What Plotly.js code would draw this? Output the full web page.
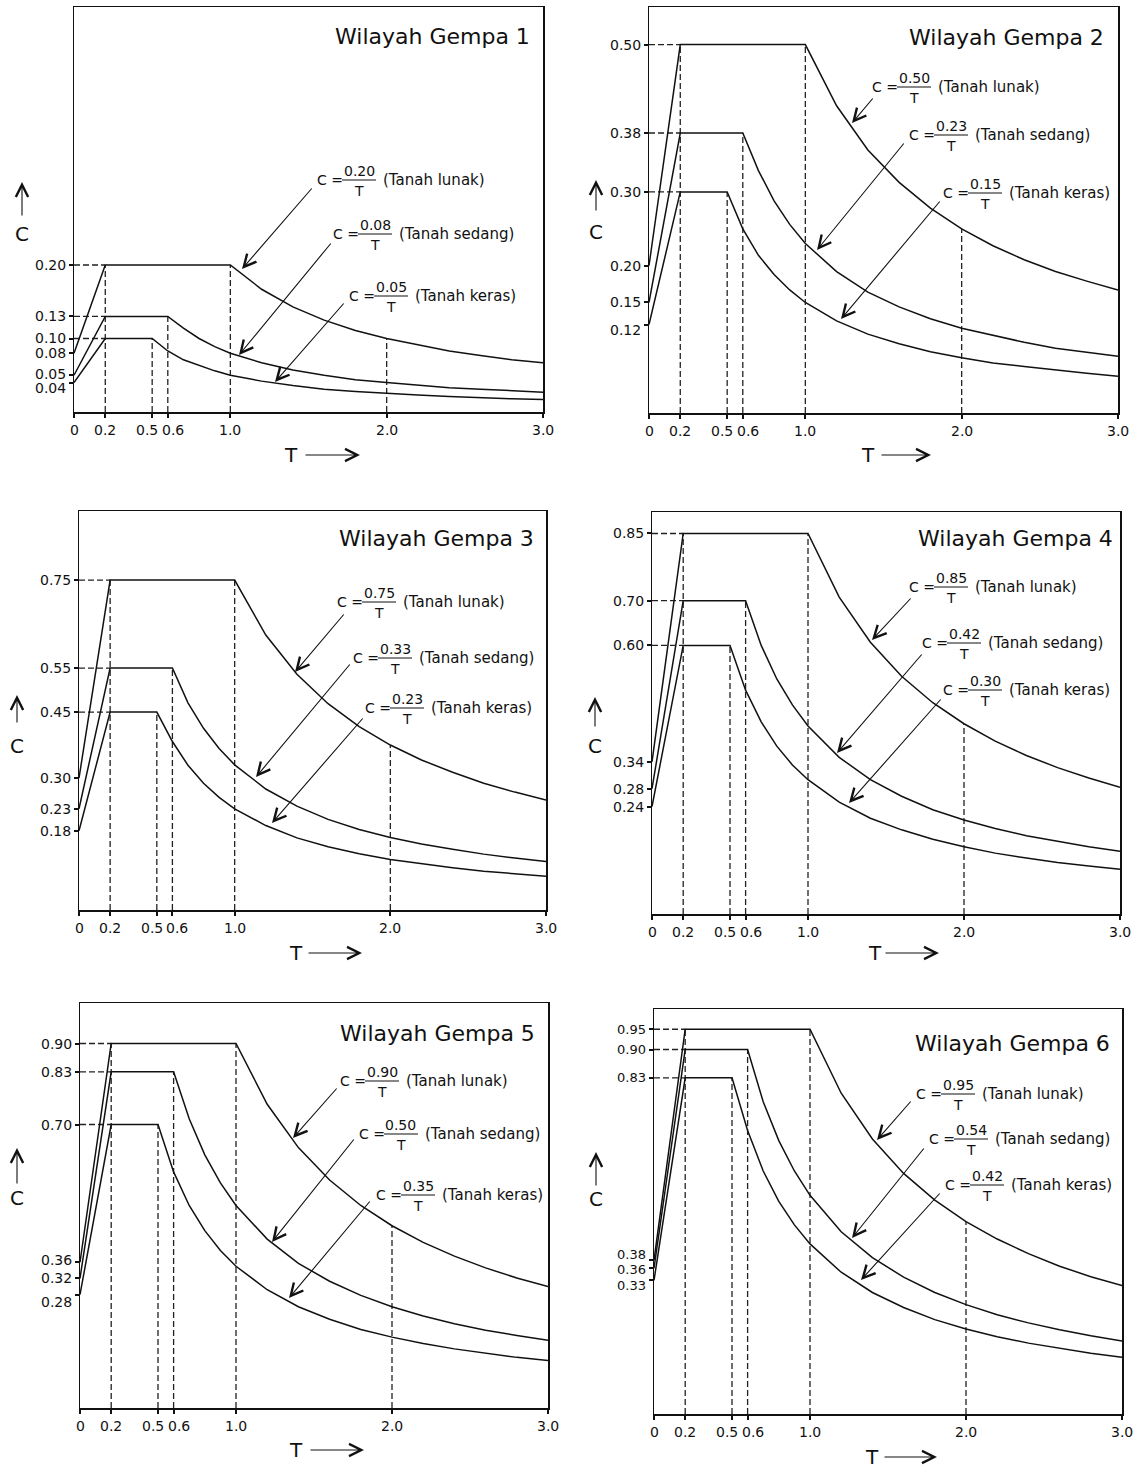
<!DOCTYPE html>
<html><head><meta charset="utf-8">
<script src="https://cdn.plot.ly/plotly-3.0.1.min.js"></script>
<style>html,body{margin:0;padding:0;background:#fff}</style>
</head><body><div id="chart" style="width:1139px;height:1469px"></div>
<script>
// ---------- DATA ----------
const T = [0, 0.2, 0.5, 0.6, 0.7, 0.8, 0.9, 1.0, 1.2, 1.4, 1.6, 1.8, 2.0, 2.2, 2.4, 2.6, 2.8, 3.0];

const lunak1  = [0.08, 0.20, 0.20, 0.20, 0.20, 0.20, 0.20, 0.20, 0.167, 0.143, 0.125, 0.111, 0.100, 0.091, 0.083, 0.077, 0.071, 0.067];
const sedang1 = [0.05, 0.13, 0.13, 0.13, 0.114, 0.100, 0.089, 0.080, 0.067, 0.057, 0.050, 0.044, 0.040, 0.036, 0.033, 0.031, 0.029, 0.027];
const keras1  = [0.04, 0.10, 0.10, 0.083, 0.071, 0.063, 0.056, 0.050, 0.042, 0.036, 0.031, 0.028, 0.025, 0.023, 0.021, 0.019, 0.018, 0.017];

const lunak2  = [0.20, 0.50, 0.50, 0.50, 0.50, 0.50, 0.50, 0.50, 0.417, 0.357, 0.313, 0.278, 0.250, 0.227, 0.208, 0.192, 0.179, 0.167];
const sedang2 = [0.15, 0.38, 0.38, 0.38, 0.329, 0.288, 0.256, 0.230, 0.192, 0.164, 0.144, 0.128, 0.115, 0.105, 0.096, 0.088, 0.082, 0.077];
const keras2  = [0.12, 0.30, 0.30, 0.250, 0.214, 0.188, 0.167, 0.150, 0.125, 0.107, 0.094, 0.083, 0.075, 0.068, 0.063, 0.058, 0.054, 0.050];

const lunak3  = [0.30, 0.75, 0.75, 0.75, 0.75, 0.75, 0.75, 0.75, 0.625, 0.536, 0.469, 0.417, 0.375, 0.341, 0.313, 0.288, 0.268, 0.250];
const sedang3 = [0.23, 0.55, 0.55, 0.55, 0.471, 0.413, 0.367, 0.330, 0.275, 0.236, 0.206, 0.183, 0.165, 0.150, 0.138, 0.127, 0.118, 0.110];
const keras3  = [0.18, 0.45, 0.45, 0.383, 0.329, 0.288, 0.256, 0.230, 0.192, 0.164, 0.144, 0.128, 0.115, 0.105, 0.096, 0.088, 0.082, 0.077];

const lunak4  = [0.34, 0.85, 0.85, 0.85, 0.85, 0.85, 0.85, 0.85, 0.708, 0.607, 0.531, 0.472, 0.425, 0.386, 0.354, 0.327, 0.304, 0.283];
const sedang4 = [0.28, 0.70, 0.70, 0.70, 0.600, 0.525, 0.467, 0.420, 0.350, 0.300, 0.263, 0.233, 0.210, 0.191, 0.175, 0.162, 0.150, 0.140];
const keras4  = [0.24, 0.60, 0.60, 0.500, 0.429, 0.375, 0.333, 0.300, 0.250, 0.214, 0.188, 0.167, 0.150, 0.136, 0.125, 0.115, 0.107, 0.100];

const lunak5  = [0.36, 0.90, 0.90, 0.90, 0.90, 0.90, 0.90, 0.90, 0.750, 0.643, 0.563, 0.500, 0.450, 0.409, 0.375, 0.346, 0.321, 0.300];
const sedang5 = [0.32, 0.83, 0.83, 0.83, 0.714, 0.625, 0.556, 0.500, 0.417, 0.357, 0.313, 0.278, 0.250, 0.227, 0.208, 0.192, 0.179, 0.167];
const keras5  = [0.28, 0.70, 0.70, 0.583, 0.500, 0.438, 0.389, 0.350, 0.292, 0.250, 0.219, 0.194, 0.175, 0.159, 0.146, 0.135, 0.125, 0.117];

const lunak6  = [0.38, 0.95, 0.95, 0.95, 0.95, 0.95, 0.95, 0.95, 0.792, 0.679, 0.594, 0.528, 0.475, 0.432, 0.396, 0.365, 0.339, 0.317];
const sedang6 = [0.36, 0.90, 0.90, 0.90, 0.771, 0.675, 0.600, 0.540, 0.450, 0.386, 0.338, 0.300, 0.270, 0.245, 0.225, 0.208, 0.193, 0.180];
const keras6  = [0.33, 0.83, 0.83, 0.700, 0.600, 0.525, 0.467, 0.420, 0.350, 0.300, 0.263, 0.233, 0.210, 0.191, 0.175, 0.162, 0.150, 0.140];

const xTickVals = [0, 0.2, 0.5, 0.6, 1.0, 2.0, 3.0];
const xTickText = ['0', '0.2', '0.5', '0.6', '1.0', '2.0', '3.0'];

const titles = ['Wilayah Gempa 1', 'Wilayah Gempa 2', 'Wilayah Gempa 3', 'Wilayah Gempa 4', 'Wilayah Gempa 5', 'Wilayah Gempa 6'];
const koef1 = ['0.20', '0.08', '0.05'];
const koef2 = ['0.50', '0.23', '0.15'];
const koef3 = ['0.75', '0.33', '0.23'];
const koef4 = ['0.85', '0.42', '0.30'];
const koef5 = ['0.90', '0.50', '0.35'];
const koef6 = ['0.95', '0.54', '0.42'];
const tanah = ['(Tanah lunak)', '(Tanah sedang)', '(Tanah keras)'];

// ---------- LAYOUT (pixel positions) ----------
const W = 1139, H = 1469;
const px = v => v / W;
const py = v => 1 - v / H;

const zones = [
  {lunak: lunak1, sedang: sedang1, keras: keras1, koef: koef1},
  {lunak: lunak2, sedang: sedang2, keras: keras2, koef: koef2},
  {lunak: lunak3, sedang: sedang3, keras: keras3, koef: koef3},
  {lunak: lunak4, sedang: sedang4, keras: keras4, koef: koef4},
  {lunak: lunak5, sedang: sedang5, keras: keras5, koef: koef5},
  {lunak: lunak6, sedang: sedang6, keras: keras6, koef: koef6}
];

const boxes = [
  {L: 74,  R: 543,  T: 7,    B: 412,  top: 0.551},
  {L: 649, R: 1118, T: 7,    B: 413,  top: 0.551},
  {L: 79,  R: 546,  T: 511,  B: 910,  top: 0.907},
  {L: 652, R: 1120, T: 512,  B: 914,  top: 0.898},
  {L: 80,  R: 548,  T: 1003, B: 1408, top: 1.0},
  {L: 654, R: 1122, T: 1009, B: 1414, top: 1.0}
];

// pixel nudges of crowded y tick labels, order: [lunak0, sedang0, keras0, lunak plateau, sedang plateau, keras plateau]
const yLabShift = [
  [0, 1, -5, 0, 0, 0],
  [0, 0, -5, 0, 0, 0],
  [0, 0, 0, 0, 0, 0],
  [0, 0, 0, 0, 0, 0],
  [2, 0, -7, 0, 0, 0],
  [6, -1, -5, 0, 0, 0]
];
const yLabSize = [14, 14, 14, 14, 14, 13];
// pixel nudges of x tick labels (0.5 and 0.6 sit apart as in the reference)
const xLabShift = [0, 0, -5, 5, 0, 0, 0];

// formula label anchors [x0 of "C =", y of fraction bar] for lunak, sedang, keras
const labelPos = [
  [[316, 180], [332, 234], [348, 296]],
  [[871, 87],  [908, 135], [942, 193]],
  [[336, 602], [352, 658], [364, 708]],
  [[908, 587], [921, 643], [942, 690]],
  [[339, 1081],[358, 1134],[375, 1195]],
  [[915, 1094],[928, 1139],[944, 1185]]
];
// arrows [tailX, tailY, headX, headY]
const arrowPos = [
  [[313, 187, 242, 269], [332, 242, 239, 355], [345, 302, 275, 382]],
  [[874, 97, 852, 123],  [905, 142, 817, 250], [941, 200, 841, 319]],
  [[345, 613, 295, 672], [351, 663, 256, 777], [364, 717, 272, 823]],
  [[912, 597, 872, 640], [923, 653, 837, 753], [942, 698, 849, 803]],
  [[338, 1087, 293, 1138], [355, 1138, 272, 1242], [371, 1200, 289, 1298]],
  [[912, 1100, 877, 1140], [925, 1147, 852, 1238], [941, 1192, 861, 1280]]
];
// title right edge and center y
const titlePos = [[532, 37], [1106, 38], [536, 538], [1115, 538], [537, 1033], [1112, 1043]];
// C label: x, arrow top y, arrow bottom y, C center y
const cPos = [[22, 182, 217, 234], [596, 180, 212, 232], [17, 695, 724, 746], [595, 697, 728, 746], [17, 1148, 1185, 1198], [596, 1152, 1187, 1199]];
// T label: T center x, y, arrow x0, arrow x1
const tPos = [[291, 455, 304, 360], [868, 455, 880, 931], [296, 953, 307, 362], [875, 953, 884, 939], [296, 1450, 309, 364], [872, 1457, 883, 937]];

const FONT = 'DejaVu Sans, Verdana, sans-serif';
const INK = '#111';

const data = [];
const layout = {
  width: W, height: H,
  margin: {l: 0, r: 0, t: 0, b: 0},
  paper_bgcolor: '#fff', plot_bgcolor: '#fff',
  showlegend: false, hovermode: false,
  font: {family: FONT, color: INK, size: 14},
  annotations: [], shapes: []
};

zones.forEach((z, i) => {
  const n = i + 1;
  const xa = n === 1 ? 'x' : 'x' + n;
  const ya = n === 1 ? 'y' : 'y' + n;
  const b = boxes[i];

  // dashed guide lines (from the series values)
  const iT = v => T.indexOf(v);
  const dx = [], dy = [];
  [[0.2, z.lunak[iT(0.2)]], [0.5, z.keras[iT(0.5)]], [0.6, z.sedang[iT(0.6)]], [1.0, z.lunak[iT(1.0)]], [2.0, z.lunak[iT(2.0)]]]
    .forEach(([xv, yv]) => { dx.push(xv, xv, null); dy.push(0, yv, null); });
  [z.lunak[1], z.sedang[1], z.keras[1]].forEach(yv => { dx.push(0, 0.2, null); dy.push(yv, yv, null); });
  data.push({x: dx, y: dy, xaxis: xa, yaxis: ya, type: 'scatter', mode: 'lines',
    line: {color: '#222', width: 1.3, dash: '6px,3px'}, hoverinfo: 'skip'});

  [z.lunak, z.sedang, z.keras].forEach(s => {
    data.push({x: T, y: s, xaxis: xa, yaxis: ya, type: 'scatter', mode: 'lines',
      line: {color: INK, width: 1.5}, hoverinfo: 'skip'});
  });

  const yTicks = [z.lunak[0], z.sedang[0], z.keras[0], z.lunak[1], z.sedang[1], z.keras[1]];
  layout['xaxis' + (n === 1 ? '' : n)] = {
    domain: [px(b.L), px(b.R)], anchor: ya, range: [0, 3],
    tickvals: xTickVals, showticklabels: false, ticks: 'outside', ticklen: 4, tickwidth: 2, tickcolor: INK,
    showline: true, linecolor: INK, linewidth: 1.5, mirror: true, showgrid: false, zeroline: false,
    fixedrange: true
  };
  layout['yaxis' + (n === 1 ? '' : n)] = {
    domain: [py(b.B), py(b.T)], anchor: xa, range: [0, b.top],
    tickvals: yTicks, showticklabels: false, ticks: 'outside', ticklen: 4, tickwidth: 2, tickcolor: INK,
    showline: true, linecolor: INK, linewidth: 1.5, mirror: true, showgrid: false, zeroline: false,
    fixedrange: true
  };
  // x tick labels on the axis scale
  xTickVals.forEach((v, k) => {
    layout.annotations.push({xref: xa, yref: 'paper', x: v, y: py(b.B + 18), xshift: xLabShift[k],
      xanchor: 'center', yanchor: 'middle', showarrow: false, text: xTickText[k], borderpad: 0,
      font: {family: FONT, size: 14, color: INK}});
  });
  // y tick labels on the axis scale (nudged where the reference spreads crowded labels)
  yTicks.forEach((v, k) => {
    layout.annotations.push({xref: 'paper', yref: ya, x: px(b.L - 7), y: v, yshift: yLabShift[i][k],
      xanchor: 'right', yanchor: 'middle', showarrow: false, text: v.toFixed(2), borderpad: 0,
      font: {family: FONT, size: yLabSize[i], color: INK}});
  });

  // title
  layout.annotations.push({xref: 'paper', yref: 'paper', x: px(titlePos[i][0]), y: py(titlePos[i][1]),
    xanchor: 'right', yanchor: 'middle', showarrow: false, text: titles[i],
    font: {family: FONT, size: 22, color: INK}});

  // formula labels
  labelPos[i].forEach(([x0, yb], k) => {
    const f = {family: FONT, size: 14, color: INK};
    const f2 = {family: FONT, size: 15, color: INK};
    layout.annotations.push({xref: 'paper', yref: 'paper', x: px(x0), y: py(yb), xanchor: 'left', yanchor: 'middle',
      showarrow: false, text: 'C =', font: f, borderpad: 0});
    layout.annotations.push({xref: 'paper', yref: 'paper', x: px(x0 + 43), y: py(yb - 9), xanchor: 'center', yanchor: 'middle',
      showarrow: false, text: z.koef[k], font: f, borderpad: 0});
    layout.annotations.push({xref: 'paper', yref: 'paper', x: px(x0 + 43), y: py(yb + 11), xanchor: 'center', yanchor: 'middle',
      showarrow: false, text: 'T', font: f, borderpad: 0});
    layout.annotations.push({xref: 'paper', yref: 'paper', x: px(x0 + 66), y: py(yb), xanchor: 'left', yanchor: 'middle',
      showarrow: false, text: tanah[k], font: f2, borderpad: 0});
    layout.shapes.push({type: 'line', xref: 'paper', yref: 'paper', x0: px(x0 + 26), x1: px(x0 + 60), y0: py(yb), y1: py(yb),
      line: {color: INK, width: 1.2}});
  });

  // arrows
  arrowPos[i].forEach(([tx, ty, hx, hy]) => {
    layout.annotations.push({xref: 'paper', yref: 'paper', x: px(hx), y: py(hy), axref: 'pixel', ayref: 'pixel',
      ax: tx - hx, ay: ty - hy, text: '', showarrow: true, arrowhead: 5, arrowsize: 2.2, arrowwidth: 1.1,
      arrowcolor: INK, standoff: 0, startstandoff: 0});
  });

  // C axis label with up arrow
  const [cx, cTop, cBot, cy] = cPos[i];
  layout.annotations.push({xref: 'paper', yref: 'paper', x: px(cx), y: py(cTop), axref: 'pixel', ayref: 'pixel',
    ax: 0, ay: cBot - cTop, text: '', showarrow: true, arrowhead: 5, arrowsize: 2.2, arrowwidth: 1.1, arrowcolor: INK, standoff: 0});
  layout.annotations.push({xref: 'paper', yref: 'paper', x: px(cx), y: py(cy), xanchor: 'center', yanchor: 'middle',
    showarrow: false, text: 'C', font: {family: FONT, size: 20, color: INK}});

  // T axis label with right arrow
  const [tcx, tcy, ta0, ta1] = tPos[i];
  layout.annotations.push({xref: 'paper', yref: 'paper', x: px(tcx), y: py(tcy), xanchor: 'center', yanchor: 'middle',
    showarrow: false, text: 'T', font: {family: FONT, size: 20, color: INK}});
  layout.annotations.push({xref: 'paper', yref: 'paper', x: px(ta1), y: py(tcy), axref: 'pixel', ayref: 'pixel',
    ax: ta0 - ta1, ay: 0, text: '', showarrow: true, arrowhead: 5, arrowsize: 2.2, arrowwidth: 1.1, arrowcolor: INK, standoff: 0});
});

Plotly.newPlot('chart', data, layout, {staticPlot: true, displayModeBar: false});
</script>
</body></html>
